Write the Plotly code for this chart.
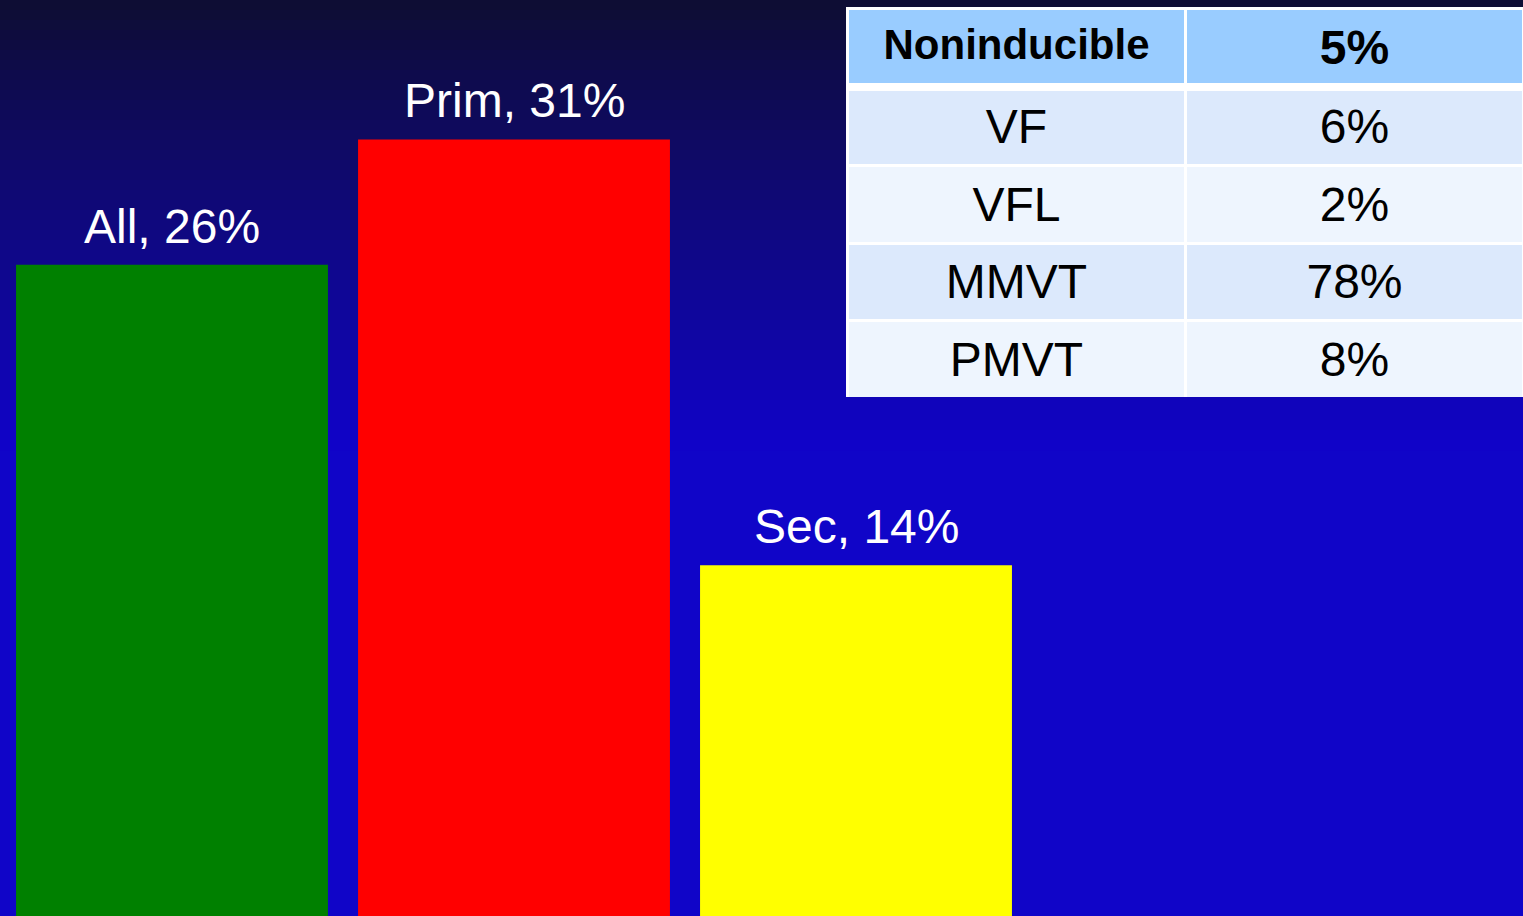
import plotly.graph_objects as go

# bar data
groups = ["All", "Prim", "Sec"]
rates = [26, 31, 14]
bar_colors = ["#008000", "#FF0000", "#FFFF00"]

# table data
header_cells = ["Noninducible", "5%"]
rhythm_labels = ["VF", "VFL", "MMVT", "PMVT"]
rhythm_rates = ["6%", "2%", "78%", "8%"]

W, H = 1523, 916
FONT = "Liberation Sans, Arial, sans-serif"
TABLE_X = [847 / W, 1.0]
COL_W = [340, 338]
ROW_FILLS = ["#DCE9FC", "#EEF5FE"] * 2

fig = go.Figure()

fig.add_trace(
    go.Bar(
        x=list(range(len(groups))),
        y=rates,
        width=0.912,
        marker={"color": bar_colors, "line": {"width": 0}},
        cliponaxis=False,
        hoverinfo="skip",
    )
)

for i, (g, v) in enumerate(zip(groups, rates)):
    fig.add_annotation(
        x=i, y=v, text=f"{g}, {v}%", showarrow=False,
        xanchor="center", yanchor="bottom", yshift=10,
        font={"color": "white", "size": 48, "family": FONT},
    )

# table body: fills and white rules
fig.add_trace(
    go.Table(
        domain={"x": TABLE_X, "y": [1 - 398 / H, 1 - 8 / H]},
        columnwidth=COL_W,
        header={
            "values": ["" for _ in header_cells],
            "fill": {"color": "#99CCFF"},
            "line": {"color": "white", "width": 3},
            "height": 80,
        },
        cells={
            "values": [["" for _ in rhythm_labels], ["" for _ in rhythm_rates]],
            "fill": {"color": [ROW_FILLS] * 2},
            "line": {"color": "white", "width": 3},
            "height": 77.5,
        },
    )
)

# table text, nudged down so it sits vertically centred in the cells
fig.add_trace(
    go.Table(
        domain={"x": TABLE_X, "y": [1 - 430 / H, 1 - 13 / H]},
        columnwidth=COL_W,
        header={
            "values": [f"<b>{h}</b>" for h in header_cells],
            "fill": {"color": "rgba(0,0,0,0)"},
            "line": {"width": 0, "color": "rgba(0,0,0,0)"},
            "font": {"color": "black", "size": [42, 48], "family": FONT},
            "align": "center",
            "height": 86,
        },
        cells={
            "values": [rhythm_labels, rhythm_rates],
            "fill": {"color": "rgba(0,0,0,0)"},
            "line": {"width": 0, "color": "rgba(0,0,0,0)"},
            "font": {"color": "black", "size": 48, "family": FONT},
            "align": "center",
            "height": 77.5,
        },
    )
)

# vertical background gradient, dark navy at top to bright blue
shapes = []
top = (14, 13, 52)
bot = (16, 3, 200)
n = 45
for i in range(n):
    t = i / (n - 1)
    c = tuple(round(a + (b - a) * t) for a, b in zip(top, bot))
    y0 = 1 - i * 10 / H
    shapes.append(
        dict(
            type="rect", xref="paper", yref="paper",
            x0=0, x1=1, y0=y0 - 10.5 / H, y1=y0,
            fillcolor=f"rgb{c}", line={"width": 0}, layer="below",
        )
    )

# thicker white rule under the table header
shapes.append(
    dict(
        type="rect", xref="paper", yref="paper",
        x0=847 / W, x1=1, y0=1 - 91 / H, y1=1 - 83 / H,
        fillcolor="white", line={"width": 0}, layer="above",
    )
)

fig.update_layout(
    width=W,
    height=H,
    margin={"l": 0, "r": 0, "t": 0, "b": 0},
    paper_bgcolor="rgb(16,5,200)",
    plot_bgcolor="rgba(0,0,0,0)",
    showlegend=False,
    shapes=shapes,
    xaxis={"range": [-172 / 342, (W - 172) / 342], "visible": False, "fixedrange": True},
    yaxis={"range": [0, H / 25.05], "visible": False, "fixedrange": True},
    font={"family": FONT},
)

fig.write_html(
    "out.html",
    config={"displayModeBar": False},
    post_script="document.body.style.margin='0';document.body.style.overflow='hidden';",
)
